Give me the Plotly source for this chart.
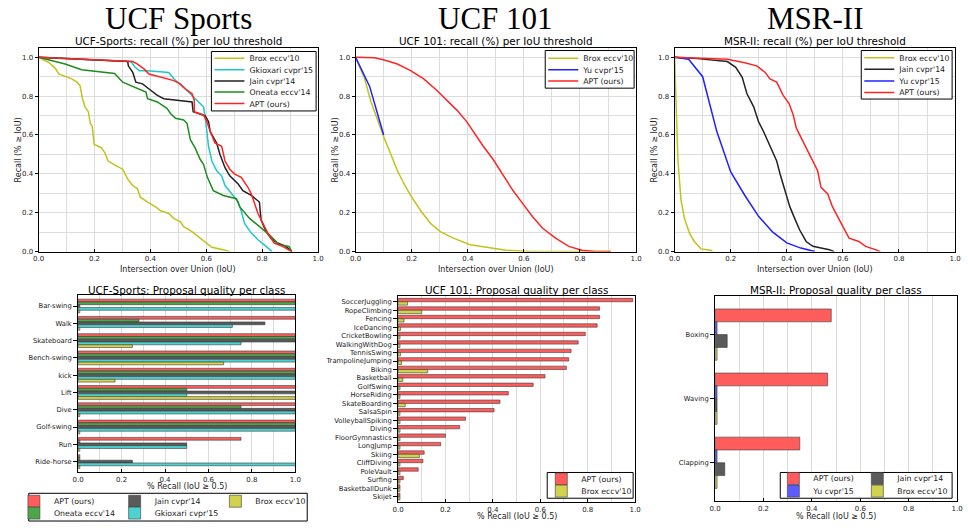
import plotly.graph_objects as go

FONT = "DejaVu Sans"
W, H = 968, 528

# ---------------- data: recall vs IoU curves ----------------
# UCF Sports
ucfs_brox_x = [0, 0.037, 0.06, 0.072, 0.119, 0.137, 0.148, 0.157, 0.166, 0.178, 0.185, 0.192, 0.199, 0.225, 0.237, 0.249, 0.278, 0.301, 0.319, 0.337, 0.354, 0.364, 0.39, 0.419, 0.437, 0.466, 0.484, 0.507, 0.519, 0.549, 0.578, 0.602, 0.62, 0.661, 0.684]
ucfs_brox_y = [1.0, 0.973, 0.943, 0.914, 0.889, 0.872, 0.855, 0.787, 0.745, 0.72, 0.66, 0.644, 0.551, 0.534, 0.508, 0.466, 0.441, 0.424, 0.373, 0.34, 0.323, 0.28, 0.255, 0.23, 0.21, 0.196, 0.17, 0.154, 0.128, 0.103, 0.069, 0.044, 0.022, 0.01, 0.0]
ucfs_gkio_x = [0, 0.33, 0.345, 0.36, 0.39, 0.466, 0.484, 0.525, 0.543, 0.56, 0.59, 0.596, 0.602, 0.608, 0.62, 0.637, 0.655, 0.667, 0.696, 0.714, 0.726, 0.737, 0.761, 0.785, 0.814, 0.835]
ucfs_gkio_y = [1.0, 0.978, 0.95, 0.93, 0.93, 0.922, 0.889, 0.838, 0.812, 0.787, 0.745, 0.694, 0.618, 0.542, 0.466, 0.416, 0.39, 0.34, 0.289, 0.255, 0.204, 0.145, 0.095, 0.061, 0.027, 0.0]
ucfs_jain_x = [0, 0.319, 0.321, 0.337, 0.348, 0.372, 0.402, 0.425, 0.448, 0.496, 0.549, 0.553, 0.573, 0.596, 0.608, 0.614, 0.637, 0.649, 0.667, 0.684, 0.714, 0.731, 0.761, 0.79, 0.796, 0.814, 0.831, 0.855, 0.885, 0.906]
ucfs_jain_y = [1.0, 0.978, 0.956, 0.922, 0.872, 0.863, 0.829, 0.804, 0.787, 0.779, 0.77, 0.72, 0.711, 0.699, 0.669, 0.618, 0.559, 0.5, 0.432, 0.39, 0.348, 0.314, 0.289, 0.255, 0.162, 0.103, 0.069, 0.044, 0.027, 0.0]
ucfs_oneata_x = [0, 0.095, 0.154, 0.213, 0.272, 0.301, 0.354, 0.384, 0.39, 0.425, 0.46, 0.472, 0.49, 0.519, 0.531, 0.543, 0.56, 0.578, 0.59, 0.604, 0.625, 0.661, 0.708, 0.72, 0.755, 0.79, 0.826, 0.861, 0.896, 0.906]
ucfs_oneata_y = [1.0, 0.965, 0.936, 0.926, 0.917, 0.872, 0.838, 0.821, 0.787, 0.77, 0.736, 0.711, 0.686, 0.677, 0.66, 0.576, 0.534, 0.475, 0.449, 0.382, 0.314, 0.289, 0.272, 0.23, 0.171, 0.128, 0.086, 0.035, 0.027, 0.0]
ucfs_apt_x = [0, 0.337, 0.354, 0.378, 0.395, 0.437, 0.484, 0.507, 0.525, 0.549, 0.557, 0.557, 0.59, 0.602, 0.614, 0.631, 0.655, 0.667, 0.684, 0.702, 0.725, 0.749, 0.761, 0.785, 0.803, 0.82, 0.843, 0.873, 0.906]
ucfs_apt_y = [1.0, 0.978, 0.965, 0.939, 0.914, 0.897, 0.88, 0.863, 0.838, 0.812, 0.779, 0.72, 0.703, 0.669, 0.618, 0.559, 0.542, 0.466, 0.424, 0.399, 0.382, 0.331, 0.297, 0.196, 0.145, 0.095, 0.044, 0.027, 0.0]

# UCF 101
ucf101_brox_x = [0, 0.032, 0.055, 0.079, 0.102, 0.126, 0.149, 0.173, 0.196, 0.231, 0.267, 0.302, 0.349, 0.408, 0.478, 0.537, 0.62, 0.91]
ucf101_brox_y = [1.0, 0.889, 0.77, 0.669, 0.584, 0.5, 0.416, 0.348, 0.289, 0.213, 0.145, 0.103, 0.069, 0.035, 0.019, 0.007, 0.0, 0.0]
ucf101_yu_x = [0, 0.05, 0.1]
ucf101_yu_y = [1.0, 0.85, 0.6]
ucf101_apt_x = [0, 0.067, 0.102, 0.149, 0.196, 0.243, 0.29, 0.326, 0.361, 0.396, 0.42, 0.455, 0.49, 0.525, 0.561, 0.596, 0.631, 0.667, 0.713, 0.76, 0.807, 0.854, 0.91]
ucf101_apt_y = [1.0, 0.997, 0.986, 0.965, 0.931, 0.889, 0.829, 0.779, 0.728, 0.669, 0.618, 0.542, 0.475, 0.399, 0.314, 0.247, 0.179, 0.12, 0.069, 0.027, 0.007, 0.0, 0.0]

# MSR-II
msr_brox_x = [0, 0.006, 0.012, 0.023, 0.035, 0.053, 0.07, 0.094, 0.129, 0.135]
msr_brox_y = [1.0, 0.72, 0.466, 0.264, 0.171, 0.095, 0.052, 0.014, 0.007, 0.0]
msr_jain_x = [0, 0.082, 0.188, 0.218, 0.241, 0.258, 0.282, 0.299, 0.317, 0.335, 0.352, 0.364, 0.376, 0.393, 0.411, 0.428, 0.446, 0.469, 0.493, 0.522, 0.552, 0.569]
msr_jain_y = [1.0, 0.993, 0.978, 0.948, 0.897, 0.812, 0.745, 0.669, 0.618, 0.559, 0.508, 0.466, 0.399, 0.314, 0.23, 0.171, 0.111, 0.052, 0.027, 0.019, 0.01, 0.0]
msr_yu_x = [0, 0.05, 0.1, 0.15, 0.2, 0.25, 0.3, 0.35, 0.4, 0.45, 0.5]
msr_yu_y = [1.0, 0.99, 0.9, 0.62, 0.41, 0.29, 0.18, 0.1, 0.045, 0.018, 0.0]
msr_apt_x = [0, 0.188, 0.246, 0.293, 0.323, 0.34, 0.364, 0.387, 0.408, 0.423, 0.434, 0.458, 0.481, 0.499, 0.51, 0.522, 0.546, 0.563, 0.581, 0.599, 0.622, 0.657, 0.681, 0.716, 0.734]
msr_apt_y = [1.0, 0.99, 0.973, 0.956, 0.922, 0.889, 0.872, 0.804, 0.762, 0.703, 0.635, 0.568, 0.5, 0.449, 0.416, 0.331, 0.297, 0.23, 0.179, 0.128, 0.069, 0.052, 0.027, 0.01, 0.0]

# ---------------- data: per-class recall bars ----------------
ucfs_classes = ["Bar-swing", "Walk", "Skateboard", "Bench-swing", "kick", "Lift", "Dive", "Golf-swing", "Run", "Ride-horse"]
ucfs_bar_apt = [1.0, 1.0, 1.0, 1.0, 1.0, 1.0, 1.0, 1.0, 0.75, 0.0]
ucfs_bar_oneata = [1.0, 0.28, 1.0, 1.0, 1.0, 0.5, 0.75, 1.0, 0.0, 0.0]
ucfs_bar_jain = [0.0, 0.86, 1.0, 1.0, 1.0, 1.0, 1.0, 1.0, 0.5, 0.25]
ucfs_bar_gkio = [1.0, 0.71, 0.75, 1.0, 1.0, 0.5, 1.0, 1.0, 0.5, 1.0]
ucfs_bar_brox = [0.0, 0.0, 0.25, 0.67, 0.17, 1.0, 0.0, 0.0, 0.0, 0.0]

ucf101_classes = ["SoccerJuggling", "RopeClimbing", "Fencing", "IceDancing", "CricketBowling", "WalkingWithDog",
                  "TennisSwing", "TrampolineJumping", "Biking", "Basketball", "GolfSwing", "HorseRiding",
                  "SkateBoarding", "SalsaSpin", "VolleyballSpiking", "Diving", "FloorGymnastics", "LongJump",
                  "Skiing", "CliffDiving", "PoleVault", "Surfing", "BasketballDunk", "Skijet"]
ucf101_bar_apt = [0.99, 0.85, 0.85, 0.84, 0.79, 0.76, 0.73, 0.72, 0.71, 0.62, 0.57, 0.465, 0.43, 0.405, 0.285, 0.26, 0.20, 0.18, 0.11, 0.105, 0.085, 0.022, 0.005, 0.0]
ucf101_bar_brox = [0.04, 0.10, 0.025, 0.01, 0.0, 0.0, 0.01, 0.015, 0.125, 0.02, 0.0, 0.0, 0.03, 0.0, 0.0, 0.0, 0.0, 0.0, 0.09, 0.0, 0.0, 0.0, 0.005, 0.0]

msr_classes = ["Boxing", "Waving", "Clapping"]
msr_bar_apt = [0.48, 0.465, 0.35]
msr_bar_yu = [0.0, 0.0, 0.0]
msr_bar_jain = [0.05, 0.0, 0.04]
msr_bar_brox = [0.0, 0.0, 0.0]

x_ticks = [0.0, 0.2, 0.4, 0.6, 0.8, 1.0]
x_tick_text = ["0.0", "0.2", "0.4", "0.6", "0.8", "1.0"]

# ---------------- styles ----------------
LINE_COL = {"brox": "#c2c21a", "gkio": "#1ec8c8", "jain": "#222222", "oneata": "#1e8c1e", "apt": "#ff2424", "yu": "#2020ff"}
BAR_COL = {"apt": "#ff5c5c", "oneata": "#4ca64c", "jain": "#5a5a5a", "gkio": "#4dd2d2", "brox": "#d2d24d", "yu": "#5c5cff"}
STUB = 0.008  # zero-valued bars are drawn as a small stub, as in the original

def fx(p):
    return p / W

def fy(p):
    return 1 - p / H

fig = go.Figure()

legend_layouts = {}
legend_counter = [0]

def new_legend(x_text_px, y_center_px):
    legend_counter[0] += 1
    n = legend_counter[0]
    key = "legend" if n == 1 else f"legend{n}"
    legend_layouts[key] = dict(
        x=fx(x_text_px - 40), y=fy(y_center_px), xanchor="left", yanchor="middle",
        bgcolor="rgba(0,0,0,0)", borderwidth=0,
        font=dict(family=FONT, size=7.8, color="#222"),
        itemclick=False, itemdoubleclick=False,
    )
    return key

def add_line(x, y, name, col, ax, leg):
    fig.add_trace(go.Scatter(x=x, y=y, mode="lines", name=name,
                             line=dict(color=col, width=1.5),
                             xaxis=f"x{ax}", yaxis=f"y{ax}",
                             legend=leg, showlegend=True))

# ---- top row: recall curves ----
tl_rows = [58.7, 70.3, 81.7, 92.9, 104.5]
add_line(ucfs_brox_x, ucfs_brox_y, "Brox eccv'10", LINE_COL["brox"], "", new_legend(246, tl_rows[0]))
add_line(ucfs_gkio_x, ucfs_gkio_y, "Gkioxari cvpr'15", LINE_COL["gkio"], "", new_legend(246, tl_rows[1]))
add_line(ucfs_jain_x, ucfs_jain_y, "Jain cvpr'14", LINE_COL["jain"], "", new_legend(246, tl_rows[2]))
add_line(ucfs_oneata_x, ucfs_oneata_y, "Oneata eccv'14", LINE_COL["oneata"], "", new_legend(246, tl_rows[3]))
add_line(ucfs_apt_x, ucfs_apt_y, "APT (ours)", LINE_COL["apt"], "", new_legend(246, tl_rows[4]))

tm_rows = [58.7, 70.3, 81.7]
add_line(ucf101_brox_x, ucf101_brox_y, "Brox eccv'10", LINE_COL["brox"], "2", new_legend(584, tm_rows[0]))
add_line(ucf101_yu_x, ucf101_yu_y, "Yu cvpr'15", LINE_COL["yu"], "2", new_legend(584, tm_rows[1]))
add_line(ucf101_apt_x, ucf101_apt_y, "APT (ours)", LINE_COL["apt"], "2", new_legend(584, tm_rows[2]))

tr_rows = [58.3, 70.0, 81.7, 93.3]
add_line(msr_brox_x, msr_brox_y, "Brox eccv'10", LINE_COL["brox"], "3", new_legend(904, tr_rows[0]))
add_line(msr_jain_x, msr_jain_y, "Jain cvpr'14", LINE_COL["jain"], "3", new_legend(904, tr_rows[1]))
add_line(msr_yu_x, msr_yu_y, "Yu cvpr'15", LINE_COL["yu"], "3", new_legend(904, tr_rows[2]))
add_line(msr_apt_x, msr_apt_y, "APT (ours)", LINE_COL["apt"], "3", new_legend(904, tr_rows[3]))

# ---- bottom row: per-class bars ----
def add_bar(vals, cats, name, col, ax, leg):
    shown = [v if v > STUB else STUB for v in vals]
    fig.add_trace(go.Bar(x=shown, y=cats, orientation="h", name=name,
                         marker=dict(color=col, line=dict(color="#3a3a3a", width=0.6)),
                         xaxis=f"x{ax}", yaxis=f"y{ax}", legend=leg, showlegend=True,
                         customdata=vals, hovertemplate="%{y}: %{customdata}<extra>" + name + "</extra>"))

bl_r1, bl_r2 = 506.0, 518.0
add_bar(ucfs_bar_apt, ucfs_classes, "APT (ours)", BAR_COL["apt"], "4", new_legend(48, bl_r1))
add_bar(ucfs_bar_oneata, ucfs_classes, "Oneata eccv'14", BAR_COL["oneata"], "4", new_legend(48, bl_r2))
add_bar(ucfs_bar_jain, ucfs_classes, "Jain cvpr'14", BAR_COL["jain"], "4", new_legend(150, bl_r1))
add_bar(ucfs_bar_gkio, ucfs_classes, "Gkioxari cvpr'15", BAR_COL["gkio"], "4", new_legend(150, bl_r2))
add_bar(ucfs_bar_brox, ucfs_classes, "Brox eccv'10", BAR_COL["brox"], "4", new_legend(252, bl_r1))

add_bar(ucf101_bar_apt, ucf101_classes, "APT (ours)", BAR_COL["apt"], "5", new_legend(582, 483.5))
add_bar(ucf101_bar_brox, ucf101_classes, "Brox eccv'10", BAR_COL["brox"], "5", new_legend(582, 495.8))

add_bar(msr_bar_apt, msr_classes, "APT (ours)", BAR_COL["apt"], "6", new_legend(817, 483.0))
add_bar(msr_bar_yu, msr_classes, "Yu cvpr'15", BAR_COL["yu"], "6", new_legend(817, 495.8))
add_bar(msr_bar_jain, msr_classes, "Jain cvpr'14", BAR_COL["jain"], "6", new_legend(902, 483.0))
add_bar(msr_bar_brox, msr_classes, "Brox eccv'10", BAR_COL["brox"], "6", new_legend(902, 495.8))

# ---------------- axes ----------------
tickfont = dict(family=FONT, size=7, color="#222")
base = dict(showline=True, linecolor="black", linewidth=1, mirror=True,
            tickcolor="black", tickfont=tickfont, zeroline=False, fixedrange=True)
grid = dict(showgrid=True, gridcolor="#dcdcdc", gridwidth=1,
            minor=dict(dtick=0.1, tick0=0, showgrid=True, gridcolor="#dcdcdc", ticks=""))

def xaxis_cfg(x0, x1, anchor):
    return dict(domain=[fx(x0), fx(x1)], anchor=anchor, range=[0, 1.0],
                tickvals=x_ticks, ticktext=x_tick_text, ticks="inside", ticklen=3,
                **grid, **base)

layout_axes = {}
top_cols = [(33, 316), (354, 638), (677, 961)]
for i, (a, b) in enumerate(top_cols):
    k = "" if i == 0 else str(i + 1)
    layout_axes[f"xaxis{k}"] = xaxis_cfg(a, b, f"y{k}")
    layout_axes[f"yaxis{k}"] = dict(domain=[fy(254), fy(48)], anchor=f"x{k}", range=[0, 1.05],
                                    tickvals=x_ticks, ticktext=x_tick_text, ticks="outside", ticklen=3,
                                    **grid, **base)

bot = [((73, 293), (298, 477), ucfs_classes, 0.63),
       ((397, 637), (299, 507), ucf101_classes, 0.66),
       ((718, 963), (299, 506), msr_classes, 0.6)]
for i, ((a, b), (t, btm), cats, pad) in enumerate(bot):
    k = str(i + 4)
    layout_axes[f"xaxis{k}"] = xaxis_cfg(a, b, f"y{k}")
    ycfg = dict(base)
    ycfg.update(tickfont=dict(family=FONT, size=6.8, color="#222"))
    layout_axes[f"yaxis{k}"] = dict(domain=[fy(btm), fy(t)], anchor=f"x{k}", type="category",
                                    categoryorder="array", categoryarray=cats, ticks="outside", ticklen=4,
                                    range=[len(cats) - 1 + pad, -pad], showgrid=False, **ycfg)

# ---------------- annotations ----------------
ann = []
def text(x, y, s, size, family=FONT, color="black", angle=0):
    ann.append(dict(x=fx(x), y=fy(y), xref="paper", yref="paper", text=s, showarrow=False,
                    xanchor="center", yanchor="middle", textangle=angle,
                    font=dict(family=family, size=size, color=color)))

text(174.5, 19, "UCF Sports", 31, family="Liberation Serif")
text(496, 19, "UCF 101", 31, family="Liberation Serif")
text(819, 19, "MSR-II", 31, family="Liberation Serif")

text(174.5, 41.5, "UCF-Sports: recall (%) per IoU threshold", 10.4)
text(496, 41.5, "UCF 101: recall (%) per IoU threshold", 10.4)
text(819, 41.5, "MSR-II: recall (%) per IoU threshold", 10.4)
text(183, 292.5, "UCF-Sports: Proposal quality per class", 10.4)
text(517, 293, "UCF 101: Proposal quality per class", 10.4)
text(840.5, 293, "MSR-II: Proposal quality per class", 10.4)

for (a, b) in top_cols:
    text((a + b) / 2, 272, "Intersection over Union (IoU)", 8, color="#222")
    text(a - 20, 151, "Recall (% \u2265 IoU)", 8, color="#222", angle=-90)
text(183, 491.5, "% Recall (IoU \u2265 0.5)", 8, color="#222")
text(517, 521, "% Recall (IoU \u2265 0.5)", 8, color="#222")
text(840.5, 521, "% Recall (IoU \u2265 0.5)", 8, color="#222")

def frame(x0, y0, x1, y1):
    return dict(type="rect", xref="paper", yref="paper", x0=fx(x0), x1=fx(x1), y0=fy(y1), y1=fy(y0),
                line=dict(color="black", width=1), fillcolor="white", layer="above")

shapes = [frame(208, 52, 314, 112), frame(546, 51, 636, 89), frame(866, 51, 958, 100),
          frame(23, 498, 305, 526), frame(548, 477, 635, 503), frame(784, 477, 958, 503)]

fig.update_layout(
    width=W, height=H, margin=dict(l=0, r=0, t=0, b=0),
    paper_bgcolor="white", plot_bgcolor="white",
    font=dict(family=FONT, color="#222"),
    barmode="group", bargap=0.2, bargroupgap=0.0,
    annotations=ann, shapes=shapes, hovermode="closest",
    **layout_axes, **legend_layouts,
)

fig.write_html("out.html")
